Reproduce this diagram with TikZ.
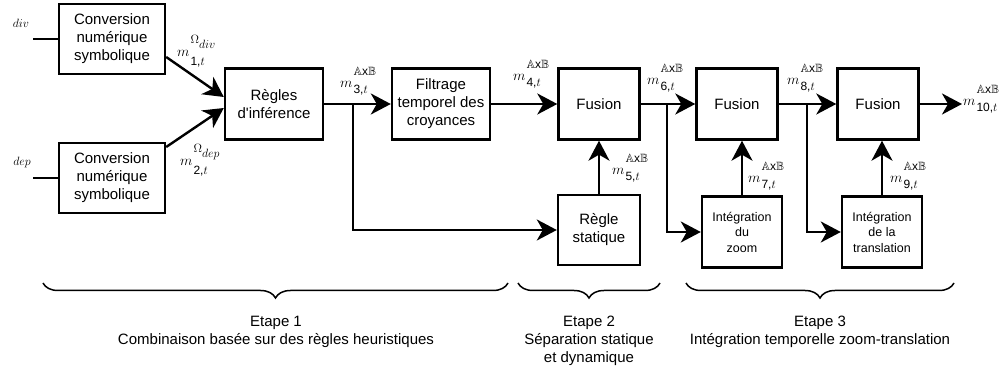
\documentclass[tikz,border=0pt]{standalone}
\usepackage{fontspec}
\setmainfont{Liberation Sans}
\usepackage{amssymb}
\usetikzlibrary{arrows.meta, positioning, decorations.pathreplacing}

% m with a stacked upper and lower index
\newcommand{\masslabel}[4]{$m$\hspace{1pt}\raisebox{-#1}{\fontsize{12}{14}\selectfont\begin{tabular}[b]{@{}l@{}}#3\\[#2]#4\end{tabular}}}
\newcommand{\massAB}[1]{\masslabel{5.5pt}{4pt}{$\mathbb{A}\mathrm{x}\mathbb{B}$}{#1,$t$}}

\begin{document}
\begin{tikzpicture}[
    x=1pt, y=-1pt,
    block/.style={draw, line width=2.4pt, align=center, inner sep=0pt,
        minimum width=81pt, minimum height=71pt, font=\fontsize{15}{18}\selectfont},
    smallblock/.style={block, minimum width=80pt, font=\fontsize{12.5}{15.5}\selectfont},
    arrow/.style={-{Stealth[length=20pt,width=21pt,inset=6pt]}, line width=2.4pt},
    wire/.style={line width=2.4pt},
    mass/.style={inner sep=0pt, anchor=base west, font=\fontsize{13.5}{15}\selectfont},
    stage/.style={decorate, decoration={brace, amplitude=15pt}, line width=1.5pt},
    stagetext/.style={align=center, inner sep=0pt, anchor=north, font=\fontsize{15}{18}\selectfont}
]
\useasboundingbox (0,0) rectangle (1005,371);

% Inputs
\node[block, minimum width=106pt, minimum height=70pt] (conv1) at (112,39) {Conversion\\ numérique\\ symbolique};
\node[block, minimum width=106pt, minimum height=70pt] (conv2) at (112,178) {Conversion\\ numérique\\ symbolique};
\node[font=\fontsize{12}{14}\selectfont] (div) at (21,23) {$div$};
\node[font=\fontsize{12}{14}\selectfont] (dep) at (22,163) {$dep$};
\coordinate (in1) at (33,39);
\coordinate (in2) at (33,178);

\draw[wire] (in1) -- (conv1);
\draw[wire] (in2) -- (conv2);

% Etape 1
\node[block, minimum width=98pt] (regles) at (274,104) {Règles\\ d\textquotesingle inférence};
\node[block, minimum width=98pt] (filtrage) at (441,104) {Filtrage\\ temporel des\\ croyances};
\coordinate (b3) at (353,104);

\draw[arrow] ([yshift=-18pt]conv1.east) -- ([yshift=7pt]regles.west);
\draw[arrow] ([yshift=31pt]conv2.east) -- ([yshift=-4pt]regles.west);
\draw[arrow] (regles) -- (filtrage);

\node[mass] (m1) at (177,57) {\masslabel{9pt}{8pt}{$\Omega$\raisebox{-5pt}{$div$}}{1,$t$}};
\node[mass] (m2) at (180,166) {\masslabel{9pt}{8pt}{$\Omega$\raisebox{-5pt}{$dep$}}{2,$t$}};
\node[mass] (m3) at (340,88) {\massAB{3}};

% Etape 2
\node[block] (fusion1) at (599,104) {Fusion};
\node[block, minimum width=82pt, minimum height=70pt] (statique) at (599,230) {Règle\\ statique};

\draw[arrow] (filtrage) -- (fusion1);
\draw[arrow] (b3) |- (statique);
\draw[arrow] (statique) -- (fusion1);

\node[mass] (m4) at (513,81) {\massAB{4}};
\node[mass] (m5) at (612,175) {\massAB{5}};

% Etape 3
\node[block] (fusion2) at (737,104) {Fusion};
\node[smallblock] (izoom) at (742,232) {Intégration\\ du\\ zoom};
\node[block] (fusion3) at (878,104) {Fusion};
\node[smallblock] (itransl) at (882,232) {Intégration\\ de la\\ translation};
\coordinate (b6) at (667,104);
\coordinate (b8) at (807,104);
\coordinate (out) at (962,104);

\draw[arrow] (fusion1) -- (fusion2);
\draw[arrow] (b6) |- (izoom);
\draw[arrow] (izoom) -- (izoom |- fusion2.south);
\draw[arrow] (fusion2) -- (fusion3);
\draw[arrow] (b8) |- (itransl);
\draw[arrow] (itransl) -- (itransl |- fusion3.south);
\draw[arrow] (fusion3) -- (out);

\node[mass] (m6) at (647,85) {\massAB{6}};
\node[mass] (m7) at (748,183) {\massAB{7}};
\node[mass] (m8) at (787,85) {\massAB{8}};
\node[mass] (m9) at (890,183) {\massAB{9}};
\node[mass] (m10) at (963,106) {\massAB{10}};

% Stages
\draw[stage] (508,283) -- (43,283);
\draw[stage] (660,283) -- (518,283);
\draw[stage] (954,283) -- (686,283);

\node[stagetext] (etape1) at (276,316) {Etape 1\\ Combinaison basée sur des règles heuristiques};
\node[stagetext] (etape2) at (589,316) {Etape 2\\ Séparation statique\\ et dynamique};
\node[stagetext] (etape3) at (820,316) {Etape 3\\ Intégration temporelle zoom-translation};

\end{tikzpicture}
\end{document}
